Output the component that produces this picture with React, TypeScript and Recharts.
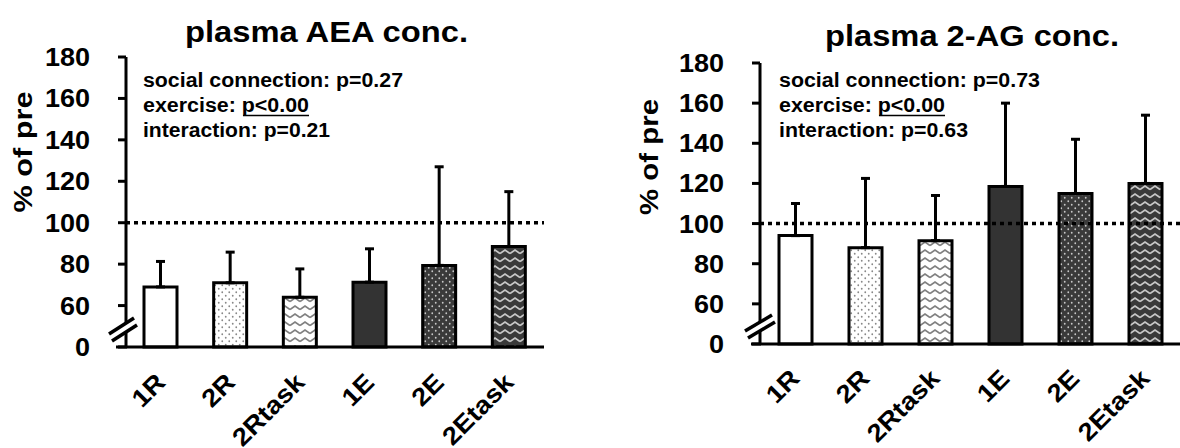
import React from 'react';
import { BarChart, Bar, XAxis, YAxis, ReferenceLine, ErrorBar, Cell } from 'recharts';

// groups on the x axis
const categories = ['1R', '2R', '2Rtask', '1E', '2E', '2Etask'];

// plasma AEA: bar height and top of the error bar (% of pre)
const aeaMean = [69, 71, 64, 71.3, 79.4, 88.5];
const aeaUpper = [81.3, 85.8, 77.7, 87.4, 127, 115];

// plasma 2-AG
const agMean = [94, 88, 91.5, 118.5, 115, 120];
const agUpper = [110, 122.5, 114, 160, 142, 154];

// broken axis: the "0" tick sits where 40 would be
const yTickValues = [40, 60, 80, 100, 120, 140, 160, 180];
const yTickLabels = ['0', '60', '80', '100', '120', '140', '160', '180'];

const titles = ['plasma AEA conc.', 'plasma 2-AG conc.'];
const aeaStats = ['social connection: p=0.27', 'exercise: ', 'p<0.00', 'interaction: p=0.21'];
const agStats = ['social connection: p=0.73', 'exercise: ', 'p<0.00', 'interaction: p=0.63'];

const FONT = '"Liberation Sans", Arial, Helvetica, sans-serif';
const fills = ['#ffffff', 'url(#p-dots)', 'url(#p-wave)', '#333333', 'url(#p-dots-dk)', 'url(#p-wave-dk)'];

const buildRows = (mean: number[], upper: number[]) =>
  categories.map((name, i) => ({ name, value: mean[i], err: [0, upper[i] - mean[i]] }));

const aeaData = buildRows(aeaMean, aeaUpper);
const agData = buildRows(agMean, agUpper);

const YTick = (props: any) => {
  const { x, y, payload } = props;
  const idx = yTickValues.indexOf(payload.value);
  return (
    <g transform={`translate(${x},${y}) scale(1.08,1)`}>
      <text x={0} y={0} dy="0.36em" textAnchor="end" fontFamily={FONT} fontWeight="bold" fontSize={25} fill="#000">
        {yTickLabels[idx]}
      </text>
    </g>
  );
};

const makeXTick = (drop: number) => (props: any) => {
  const { x, y, payload } = props;
  return (
    <g transform={`translate(${x + 6},${y + drop}) rotate(-45) scale(1.1,1)`}>
      <text x={0} y={0} textAnchor="end" fontFamily={FONT} fontWeight="bold" fontSize={25} fill="#000">
        {payload.value}
      </text>
    </g>
  );
};

const Patterns = () => (
  <defs>
    <pattern id="p-dots" width={7} height={7} patternUnits="userSpaceOnUse">
      <rect width={7} height={7} fill="#fff" />
      <circle cx={1.75} cy={1.75} r={0.9} fill="#888" />
      <circle cx={5.25} cy={5.25} r={0.9} fill="#888" />
    </pattern>
    <pattern id="p-dots-dk" width={7} height={7} patternUnits="userSpaceOnUse">
      <rect width={7} height={7} fill="#3a3a3a" />
      <circle cx={1.75} cy={1.75} r={0.9} fill="#c8c8c8" />
      <circle cx={5.25} cy={5.25} r={0.9} fill="#c8c8c8" />
    </pattern>
    <pattern id="p-wave" width={10} height={8} patternUnits="userSpaceOnUse">
      <rect width={10} height={8} fill="#fff" />
      <path d="M0 5.5 L5 2 L10 5.5" stroke="#808080" strokeWidth={1.6} fill="none" />
    </pattern>
    <pattern id="p-wave-dk" width={10} height={8} patternUnits="userSpaceOnUse">
      <rect width={10} height={8} fill="#3a3a3a" />
      <path d="M0 5.5 L5 2 L10 5.5" stroke="#c8c8c8" strokeWidth={1.6} fill="none" />
    </pattern>
  </defs>
);

interface PanelProps {
  data: { name: string; value: number; err: number[] }[];
  width: number;
  yWidth: number;
  top: number;
  xHeight: number;
  right: number;
  drop: number;
}

const Panel: React.FC<PanelProps> = ({ data, width, yWidth, top, xHeight, right, drop }) => (
  <BarChart width={width} height={448} data={data} margin={{ top, right, bottom: 0, left: 0 }}>
    <Patterns />
    <XAxis
      dataKey="name"
      interval={0}
      height={xHeight}
      axisLine={{ stroke: '#000', strokeWidth: 3 }}
      tickLine={false}
      tickSize={0}
      tickMargin={0}
      tick={makeXTick(drop)}
    />
    <YAxis
      type="number"
      domain={[40, 180]}
      ticks={yTickValues}
      width={yWidth}
      axisLine={{ stroke: '#000', strokeWidth: 3 }}
      tickLine={{ stroke: '#000', strokeWidth: 3 }}
      tickSize={8}
      tickMargin={28}
      tick={<YTick />}
    />
    <Bar dataKey="value" barSize={33} stroke="#000" strokeWidth={3} isAnimationActive={false}>
      {data.map((d, i) => (
        <Cell key={d.name} fill={fills[i]} />
      ))}
      <ErrorBar dataKey="err" direction="y" width={4.5} stroke="#000" strokeWidth={3} isAnimationActive={false} />
    </Bar>
    <ReferenceLine y={100} stroke="#000" strokeWidth={3.5} strokeDasharray="4 4" />
  </BarChart>
);

const textStyle = { fontFamily: FONT, fontWeight: 'bold' as const, fill: '#000' };

const Stats: React.FC<{ x: number; lines: string[]; widths: number[] }> = ({ x, lines, widths }) => (
  <g>
    <text x={x} y={87} fontSize={20} textLength={widths[0]} lengthAdjust="spacingAndGlyphs" {...textStyle}>
      {lines[0]}
    </text>
    <text x={x} y={112} fontSize={20} textLength={widths[1]} lengthAdjust="spacingAndGlyphs" {...textStyle}>
      {lines[1] + lines[2]}
    </text>
    <line x1={x + widths[1] - 66} x2={x + widths[1]} y1={115.5} y2={115.5} stroke="#000" strokeWidth={1.6} />
    <text x={x} y={137} fontSize={20} textLength={widths[2]} lengthAdjust="spacingAndGlyphs" {...textStyle}>
      {lines[3]}
    </text>
  </g>
);

export default function App() {
  return (
    <div style={{ position: 'absolute', left: 0, top: 0, width: 1180, height: 448, background: '#fff', overflow: 'hidden' }}>
      <div style={{ position: 'absolute', left: 0, top: 0 }}>
        <Panel data={aeaData} width={560} yWidth={126} top={57} xHeight={101} right={16} drop={37} />
      </div>
      <div style={{ position: 'absolute', left: 580, top: 0 }}>
        <Panel data={agData} width={600} yWidth={180} top={63} xHeight={104} right={0} drop={36} />
      </div>
      <svg width={1180} height={448} style={{ position: 'absolute', left: 0, top: 0, pointerEvents: 'none' }}>
        {/* titles */}
        <text x={185} y={42} fontSize={29} textLength={283} lengthAdjust="spacingAndGlyphs" {...textStyle}>
          {titles[0]}
        </text>
        <text x={825} y={46} fontSize={29} textLength={294} lengthAdjust="spacingAndGlyphs" {...textStyle}>
          {titles[1]}
        </text>
        {/* y labels */}
        <text transform="translate(23,152) rotate(-90)" textAnchor="middle" dominantBaseline="central" fontSize={26}
          textLength={121} lengthAdjust="spacingAndGlyphs" {...textStyle}>% of pre</text>
        <text transform="translate(649,157) rotate(-90)" textAnchor="middle" dominantBaseline="central" fontSize={26}
          textLength={116} lengthAdjust="spacingAndGlyphs" {...textStyle}>% of pre</text>
        <Stats x={143} lines={aeaStats} widths={[260, 166, 187]} />
        <Stats x={779} lines={agStats} widths={[261, 166, 189]} />
        {/* x axis stubs left of the y axis */}
        <line x1={116} x2={127} y1={347} y2={347} stroke="#000" strokeWidth={3} />
        <line x1={751} x2={761} y1={344} y2={344} stroke="#000" strokeWidth={3} />
        {/* axis breaks */}
        <polygon points="109,334 134,318 137,325 112,341" fill="#fff" />
        <line x1={109} y1={334} x2={134} y2={318} stroke="#000" strokeWidth={3.5} />
        <line x1={112} y1={341} x2={137} y2={325} stroke="#000" strokeWidth={3.5} />
        <polygon points="745,331 772,315 775,322 748,338" fill="#fff" />
        <line x1={745} y1={331} x2={772} y2={315} stroke="#000" strokeWidth={3.5} />
        <line x1={748} y1={338} x2={775} y2={322} stroke="#000" strokeWidth={3.5} />
      </svg>
    </div>
  );
}
